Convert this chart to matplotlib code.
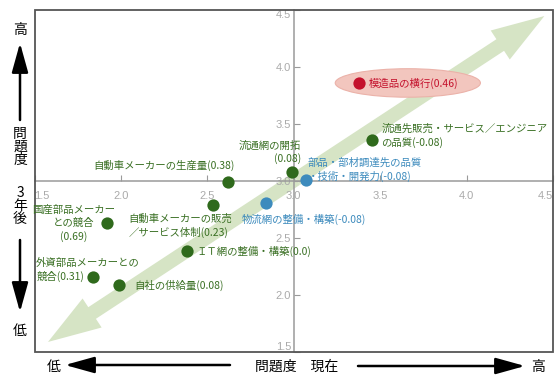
import matplotlib
matplotlib.use("Agg")
import matplotlib.pyplot as plt
from matplotlib.patches import FancyArrowPatch, Ellipse, Rectangle

plt.rcParams['font.family'] = ['Noto Sans CJK JP', 'DejaVu Sans']

# data: x = 問題度(現在), y = 問題度(3年後)
labels = ['模造品の横行(0.46)',
          '流通先販売・サービス／エンジニア\nの品質(-0.08)',
          '流通網の開拓\n(0.08)',
          '部品・部材調達先の品質\n・技術・開発力(-0.08)',
          '自動車メーカーの生産量(0.38)',
          '物流網の整備・構築(-0.08)',
          '自動車メーカーの販売\n／サービス体制(0.23)',
          '国産部品メーカー\nとの競合\n(0.69)',
          'ＩＴ網の整備・構築(0.0)',
          '外資部品メーカーとの\n競合(0.31)',
          '自社の供給量(0.08)']
x_now = [3.38, 3.45, 2.99, 3.07, 2.62, 2.84, 2.53, 1.92, 2.38, 1.84, 1.99]
y_future = [3.86, 3.36, 3.08, 3.01, 2.99, 2.81, 2.79, 2.63, 2.39, 2.16, 2.09]
groups = ['red', 'green', 'green', 'blue', 'green', 'blue', 'green', 'green', 'green', 'green', 'green']
ticks = [1.5, 2.0, 2.5, 3.0, 3.5, 4.0, 4.5]

point_col = {'red': '#c4112c', 'green': '#2f6a1c', 'blue': '#3d8bbd'}
text_col = {'red': '#c4112c', 'green': '#3a7024', 'blue': '#3d8bbd'}
# label placement (pixel offsets, ha)
offsets = [(9, 0, 'left'), (10, 4.5, 'left'), (9, 19.5, 'right'), (2, 10.5, 'left'),
           (7, 17, 'right'), (-24, -17, 'left'), (-84, -20.5, 'left'), (-33, 0, 'center'),
           (10, -1, 'left'), (-57, 6.5, 'left'), (15, -1, 'left')]

W, H = 560, 380
def px(x, y):
    return (x / W, 1 - y / H)

fig = plt.figure(figsize=(5.6, 3.8), dpi=100)
ax = fig.add_axes([34.5 / W, 1 - 352 / H, (553 - 34.5) / W, (352 - 10) / H])
ax.set_xlim(1.5, 4.5)
ax.set_ylim(1.5, 4.5)

for s in ['top', 'right']:
    ax.spines[s].set_visible(False)
for s in ['left', 'bottom']:
    ax.spines[s].set_position(('data', 3.0))
    ax.spines[s].set_color('#9a9a9a')
    ax.spines[s].set_linewidth(1.1)
ax.add_patch(Rectangle((0, 0), 1, 1, transform=ax.transAxes, fill=False,
                       ec='#555555', lw=1.3, clip_on=False, zorder=5))

ax.set_xticks(ticks)
ax.set_yticks(ticks)
ax.set_xticklabels([f'{t:.1f}' for t in ticks], family='Liberation Sans')
ax.set_yticklabels([f'{t:.1f}' for t in ticks], family='Liberation Sans')
ax.tick_params(direction='in', length=4, color='#9a9a9a', labelsize=8, labelcolor='#aaaaaa')
ax.tick_params(axis='x', pad=7)
ax.tick_params(axis='y', pad=2)
xl = ax.get_xticklabels(); xl[0].set_ha('left'); xl[-1].set_ha('right')
yl = ax.get_yticklabels(); yl[0].set_va('bottom'); yl[-1].set_va('top')

# big double arrow
arr_col = '#d6e4c5'
a0, a1 = (1.578, 1.588), (4.45, 4.447)
mid = ((a0[0] + a1[0]) / 2, (a0[1] + a1[1]) / 2)
for end in [a0, a1]:
    ax.add_patch(FancyArrowPatch(mid, end, arrowstyle='simple,head_length=38,head_width=25,tail_width=10',
                                 mutation_scale=1, color=arr_col, lw=0, shrinkA=0, shrinkB=0, zorder=1))

ax.add_patch(Ellipse((3.66, 3.86), 0.84, 0.25, fc='#f2c6be', ec='#ebb2a9', lw=0.8, zorder=2))

for lab, x, y, g, (dx, dy, ha) in zip(labels, x_now, y_future, groups, offsets):
    ax.scatter(x, y, s=78, color=point_col[g], zorder=4, linewidths=0)
    ax.annotate(lab, (x, y), xytext=(dx, dy), textcoords='offset pixels', ha=ha, va='center',
                multialignment=ha, fontsize=7.5, color=text_col[g], linespacing=1.35, zorder=6)

# side labels
fs = 10
fig.text(*px(20, 30), '高', ha='center', va='center', fontsize=fs)
fig.text(*px(20, 147), '問\n題\n度', ha='center', va='center', fontsize=fs, linespacing=0.95)
fig.text(*px(20, 206), '3\n年\n後', ha='center', va='center', fontsize=fs, linespacing=0.95)
fig.text(*px(20, 331), '低', ha='center', va='center', fontsize=fs)
fig.text(*px(54, 367), '低', ha='center', va='center', fontsize=fs)
fig.text(*px(297, 367), '問題度　現在', ha='center', va='center', fontsize=fs)
fig.text(*px(538, 367), '高', ha='center', va='center', fontsize=fs)

for p0, p1 in [((20, 120), (20, 43)), ((20, 240), (20, 312)),
               ((230, 365), (65, 365)), ((358, 366), (525, 366))]:
    fig.add_artist(FancyArrowPatch(px(*p0), px(*p1), transform=fig.transFigure,
                                   arrowstyle='-|>,head_length=18,head_width=5',
                                   mutation_scale=1, color='black', lw=1.8,
                                   shrinkA=0, shrinkB=0))

fig.savefig('out.png', dpi=100)
